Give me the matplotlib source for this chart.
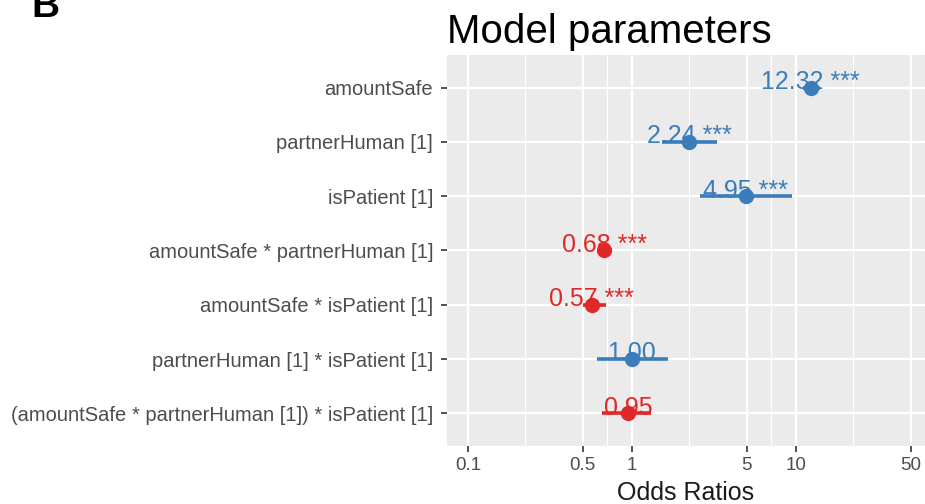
import numpy as np
import matplotlib.pyplot as plt

# model terms, top to bottom
terms = ['amountSafe', 'partnerHuman [1]', 'isPatient [1]',
         'amountSafe * partnerHuman [1]', 'amountSafe * isPatient [1]',
         'partnerHuman [1] * isPatient [1]',
         '(amountSafe * partnerHuman [1]) * isPatient [1]']
odds = [12.32, 2.24, 4.95, 0.68, 0.57, 1.00, 0.95]
ci_low = [11.0, 1.52, 2.60, 0.62, 0.50, 0.61, 0.66]
ci_high = [14.0, 3.32, 9.40, 0.76, 0.69, 1.66, 1.30]
stars = ['***', '***', '***', '***', '***', '', '']
x_breaks = [0.1, 0.5, 1, 5, 10, 50]
x_labels = ['0.1', '0.5', '1', '5', '10', '50']

blue = '#3A7DBA'
red = '#E0282A'
plt.rcParams['font.family'] = ['Liberation Sans', 'DejaVu Sans']

fig = plt.figure(figsize=(9.25, 5.04), dpi=100)
ax = fig.add_axes([0.4832, 0.1151, 0.5168, 0.7758])
ax.set_facecolor('#EBEBEB')
for s in ax.spines.values():
    s.set_visible(False)

ax.set_xscale('log')
ax.set_xlim(0.0745, 61.2)
n = len(terms)
ypos = np.arange(n, 0, -1)
ax.set_ylim(0.4, n + 0.6)

# grid: major lines at breaks, minor halfway (log scale)
ax.set_xticks(x_breaks)
ax.set_xticklabels(x_labels)
minor = [np.sqrt(a * b) for a, b in zip(x_breaks[:-1], x_breaks[1:])]
ax.set_xticks(minor, minor=True)
ax.set_yticks(ypos)
ax.set_yticklabels(terms)
ax.grid(which='major', color='white', linewidth=1.6)
ax.grid(which='minor', axis='x', color='white', linewidth=0.8)
ax.set_axisbelow(True)
ax.tick_params(which='minor', length=0)
ax.tick_params(which='major', length=4, width=1.2, color='#333333',
               labelcolor='#4D4D4D', pad=4)
ax.tick_params(axis='y', labelsize=14.5, pad=6)
ax.tick_params(axis='x', labelsize=13.5)

for y, o, lo, hi, st in zip(ypos, odds, ci_low, ci_high, stars):
    c = blue if o >= 1 else red
    ax.plot([lo, hi], [y, y], color=c, linewidth=2.6, solid_capstyle='butt', zorder=3)
    ax.plot(o, y, 'o', color=c, markersize=10, zorder=4)
    label = f'{o:.2f} {st}'.strip()
    ax.annotate(label, (o, y), xytext=(0, -1), textcoords='offset points',
                ha='center', va='baseline', color=c, fontsize=18, zorder=5)

ax.set_xlabel('Odds Ratios', fontsize=18, color='#1A1A1A', labelpad=5)
fig.text(0.4832, 0.9147, 'Model parameters', fontsize=29, ha='left', va='baseline')
fig.text(0.034, 0.966, 'B', fontsize=28, fontweight='bold', ha='left', va='baseline')

fig.savefig('out.png', dpi=100)
